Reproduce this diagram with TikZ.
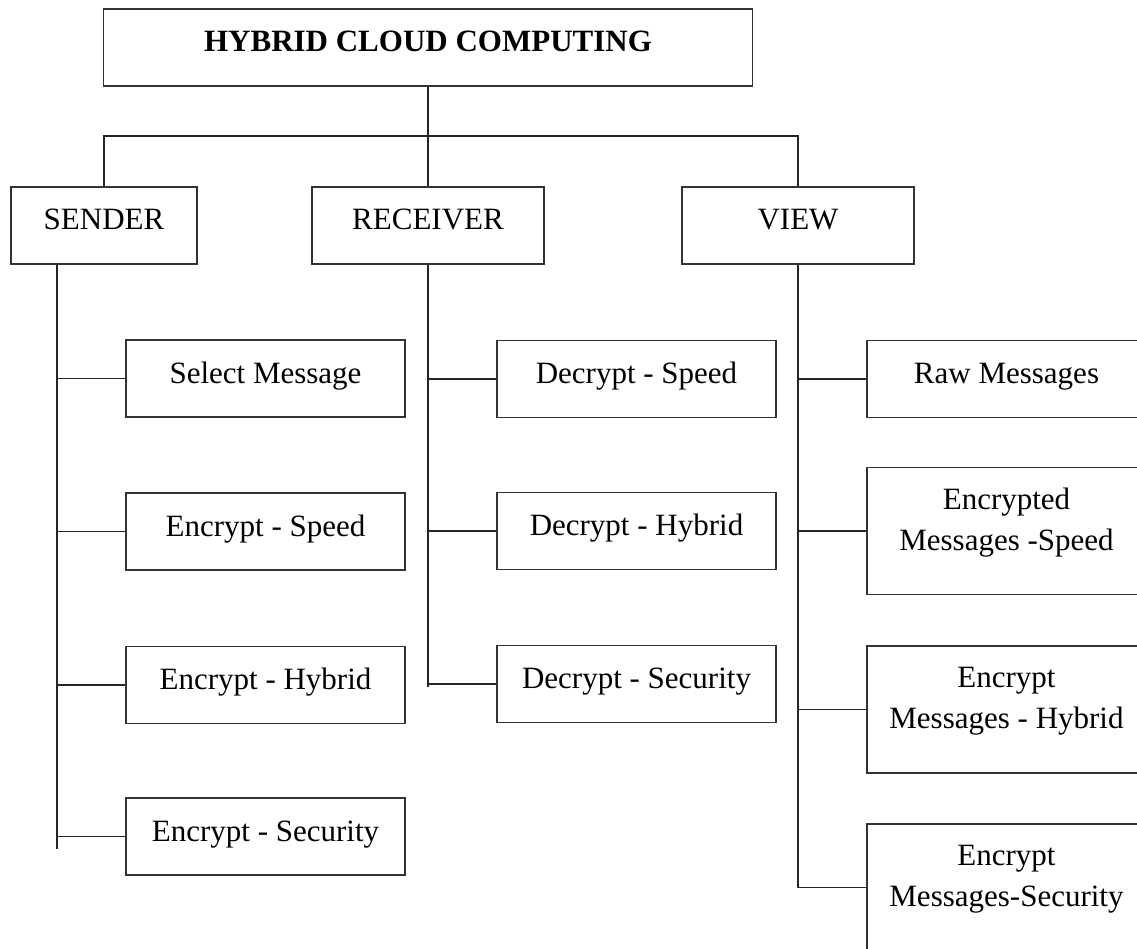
\documentclass[tikz,border=0pt]{standalone}
\usepackage{fontspec}
\setmainfont{Liberation Serif}
\begin{document}
\begin{tikzpicture}[x=1pt,y=-1pt,
  box/.style={draw=black!80, line width=1.8pt, rectangle, inner sep=0pt,
    font=\fontsize{31}{41}\selectfont, text height=21.7pt, text depth=12.7pt},
  wide/.style={box, minimum width=279pt, minimum height=77pt},
  tall/.style={box, minimum width=279pt, minimum height=127pt, align=center, text height=50.7pt, text depth=12.7pt},
  conn/.style={draw=black!85, line width=1.3pt}]
\useasboundingbox (0,0) rectangle (1137,949);
\clip (0,0) rectangle (1137,949);
% top level
\node[box, minimum width=649pt, minimum height=77pt, font=\fontsize{31}{41}\selectfont\bfseries] (top) at (428,47.5) {HYBRID CLOUD COMPUTING};
\node[box, minimum width=186pt, minimum height=77pt] (snd) at (104,225.5) {SENDER};
\node[box, minimum width=232pt, minimum height=77pt] (rcv) at (428,225.5) {RECEIVER};
\node[box, minimum width=232pt, minimum height=77pt] (viw) at (798,225.5) {VIEW};
% sender children
\node[wide] (s1) at (265.5,378.5) {Select Message};
\node[wide] (s2) at (265.5,531.5) {Encrypt - Speed};
\node[wide] (s3) at (265.5,685) {Encrypt - Hybrid};
\node[wide] (s4) at (265.5,836.5) {Encrypt - Security};
% receiver children
\node[wide] (r1) at (636.5,379) {Decrypt - Speed};
\node[wide] (r2) at (636.5,531) {Decrypt - Hybrid};
\node[wide] (r3) at (636.5,684) {Decrypt - Security};
% view children
\node[wide] (v1) at (1006.5,379) {Raw Messages};
\node[tall] (v2) at (1006.5,531) {Encrypted\\Messages -Speed};
\node[tall] (v3) at (1006.5,709.5) {Encrypt\\Messages - Hybrid};
\node[tall] (v4) at (1006.5,887.5) {Encrypt\\Messages-Security};
% connectors
\coordinate (bar) at (428,136);
\coordinate (sEnd) at (57,849);
\coordinate (rEnd) at (428,687);
\coordinate (vEnd) at (798,888);
\draw[conn] (top.south) -- (rcv.north);
\draw[conn] (snd.north) |- (bar) -| (viw.north);
\draw[conn] (snd.south -| sEnd) -- (sEnd);
\draw[conn] (rcv.south) -- (rEnd);
\draw[conn] (viw.south) -- (vEnd);
\foreach \n in {s1,s2,s3,s4} \draw[conn] (\n.west) -- (\n.west -| sEnd);
\foreach \n in {r1,r2,r3} \draw[conn] (\n.west) -- (\n.west -| rEnd);
\foreach \n in {v1,v2,v3,v4} \draw[conn] (\n.west) -- (\n.west -| vEnd);
\end{tikzpicture}
\end{document}
